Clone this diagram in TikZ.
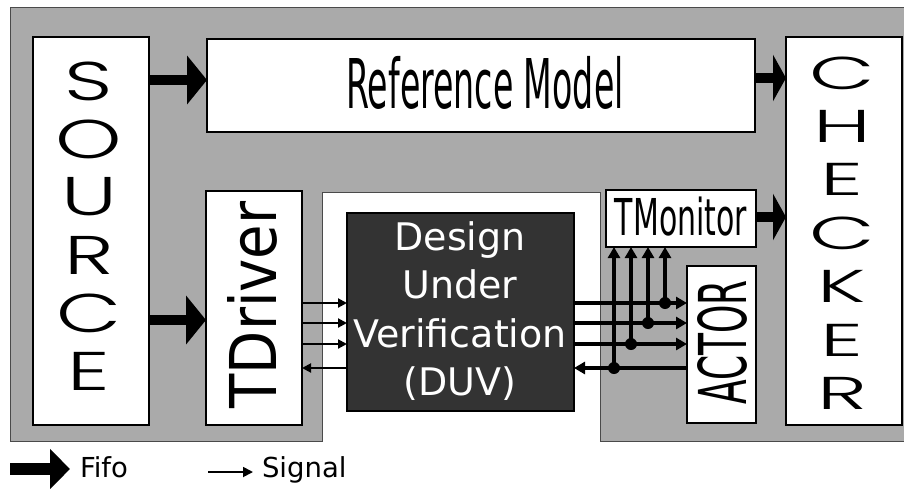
\documentclass[tikz,border=0pt]{standalone}
\usepackage{fontspec}
\setmainfont{DejaVu Sans}
\newfontfamily\geo{Poppins Light}
\usetikzlibrary{arrows.meta}
\definecolor{bggray}{HTML}{AAAAAA}
\definecolor{bgline}{HTML}{4A4A4A}
\definecolor{duvfill}{HTML}{333333}
\newcommand\fs[1]{\fontsize{#1}{#1}\selectfont}
\begin{document}
\begin{tikzpicture}[x=1pt,y=-1pt,
  box/.style={draw=black,line width=1.2pt,fill=white,inner sep=0pt,outer sep=0pt},
  darkbox/.style={draw=black,line width=1.2pt,fill=duvfill,inner sep=0pt,outer sep=0pt},
  lbl/.style={inner sep=0pt,outer sep=0pt},
  srcl/.style={lbl,font=\geo\fs{54.5}},
  chkl/.style={lbl,font=\geo\fs{46}},
  duvl/.style={lbl,anchor=base,text=white,font=\fs{38}},
  fifo/.style={line width=10pt,-{Triangle[length=20pt,width=48pt]}},
  fifoshort/.style={line width=10pt,-{Triangle[length=13pt,width=46pt]}},
  sig/.style={line width=2pt,-{Triangle[length=9pt,width=9pt]}},
  bus/.style={line width=4pt,-{Triangle[length=11pt,width=12pt]}},
  junction/.style={circle,fill=black,minimum size=12pt,inner sep=0pt,outer sep=0pt},
  bgshape/.style={fill=bggray,draw=bgline,line width=1pt},
]
\useasboundingbox (0,0) rectangle (904,488);

% grey background
\draw[bgshape] (10,7) -- (904,7) -- (904,441) -- (600,441) -- (600,192)
  -- (322,192) -- (322,441) -- (10,441) -- cycle;

% boxes
\node[box,minimum width=116pt,minimum height=388pt] (source) at (91,231) {};
\node[box,minimum width=548pt,minimum height=93pt] (ref) at (481,85.5) {};
\node[box,minimum width=116pt,minimum height=388pt] (checker) at (844,231) {};
\node[box,minimum width=96pt,minimum height=234pt] (tdriver) at (254,308) {};
\node[darkbox,minimum width=227pt,minimum height=198pt] (duv) at (460.5,312) {};
\node[box,minimum width=150pt,minimum height=57pt] (tmon) at (681,218.5) {};
\node[box,minimum width=69pt,minimum height=157pt] (actor) at (721.5,344.5) {};

% SOURCE letters
\node[srcl] (s1) at (89,81) {\scalebox{1.55}[1]{S}};
\node[srcl] (s2) at (89,139) {\scalebox{1.55}[1]{O}};
\node[srcl] (s3) at (89,197) {\scalebox{1.55}[1]{U}};
\node[srcl] (s4) at (89,255) {\scalebox{1.55}[1]{R}};
\node[srcl] (s5) at (89,313) {\scalebox{1.55}[1]{C}};
\node[srcl] (s6) at (89,371) {\scalebox{1.55}[1]{E}};

% CHECKER letters
\node[chkl] (c1) at (842,73) {\scalebox{1.85}[1]{C}};
\node[chkl] (c2) at (842,126.4) {\scalebox{1.85}[1]{H}};
\node[chkl] (c3) at (842,179.8) {\scalebox{1.85}[1]{E}};
\node[chkl] (c4) at (842,233.2) {\scalebox{1.85}[1]{C}};
\node[chkl] (c5) at (842,286.6) {\scalebox{1.85}[1]{K}};
\node[chkl] (c6) at (842,340) {\scalebox{1.85}[1]{E}};
\node[chkl] (c7) at (842,393.4) {\scalebox{1.85}[1]{R}};

% box texts
\node[lbl,anchor=base,font=\fs{68.6}] (reftext) at (485,108) {\scalebox{0.484}[1]{Reference Model}};
\node[lbl,anchor=base,font=\fs{50.8}] (tmtext) at (681,235) {\scalebox{0.59}[1]{TMonitor}};
\node[lbl,rotate=90,font=\fs{64.5}] (tdtext) at (252.5,305) {\scalebox{0.87}[1]{TDriver}};
\node[lbl,rotate=90,font=\fs{66}] (actext) at (722,342.5) {\scalebox{0.546}[1]{ACTOR}};
\node[duvl] (duv1) at (460,250) {Design};
\node[duvl] (duv2) at (460,298) {Under};
\node[duvl] (duv3) at (460,347) {Verification};
\node[duvl] (duv4) at (460,395) {(DUV)};

% fifo connectors
\coordinate (yA) at (0,80);
\coordinate (yB) at (0,320);
\coordinate (yC) at (0,78);
\coordinate (yD) at (0,217);
\draw[fifo] (source.east |- yA) -- (ref.west |- yA);
\draw[fifo] (source.east |- yB) -- (tdriver.west |- yB);
\draw[fifoshort] (ref.east |- yC) -- (checker.west |- yC);
\draw[fifoshort] (tmon.east |- yD) -- (checker.west |- yD);

% signals TDriver <-> DUV
\coordinate (l1) at (0,303);
\coordinate (l2) at (0,323);
\coordinate (l3) at (0,344);
\coordinate (l4) at (0,368);
\draw[sig] (tdriver.east |- l1) -- (duv.west |- l1);
\draw[sig] (tdriver.east |- l2) -- (duv.west |- l2);
\draw[sig] (tdriver.east |- l3) -- (duv.west |- l3);
\draw[sig] (duv.west |- l4) -- (tdriver.east |- l4);

% junctions
\node[junction] (j1) at (665,303) {};
\node[junction] (j2) at (648,323) {};
\node[junction] (j3) at (631,344) {};
\node[junction] (j4) at (614,368) {};

% bus DUV <-> ACTOR
\draw[bus] (duv.east |- j1) -- (actor.west |- j1);
\draw[bus] (duv.east |- j2) -- (actor.west |- j2);
\draw[bus] (duv.east |- j3) -- (actor.west |- j3);
\draw[bus] (actor.west |- j4) -- (duv.east |- j4);

% taps to TMonitor
\draw[bus] (j1.center) -- (j1.center |- tmon.south);
\draw[bus] (j2.center) -- (j2.center |- tmon.south);
\draw[bus] (j3.center) -- (j3.center |- tmon.south);
\draw[bus] (j4.center) -- (j4.center |- tmon.south);

% legend
\coordinate (fa) at (10,469);
\coordinate (fb) at (70,469);
\draw[line width=12pt,-{Triangle[length=20pt,width=39pt]}] (fa) -- (fb);
\node[lbl,anchor=base west,font=\fs{27.5}] (fifotext) at (80,477) {Fifo};
\coordinate (sa) at (208,472);
\coordinate (sb) at (253,472);
\draw[line width=1.8pt,-{Triangle[length=10pt,width=10pt]}] (sa) -- (sb);
\node[lbl,anchor=base west,font=\fs{27.5}] (sigtext) at (262,477) {Signal};
\end{tikzpicture}
\end{document}
